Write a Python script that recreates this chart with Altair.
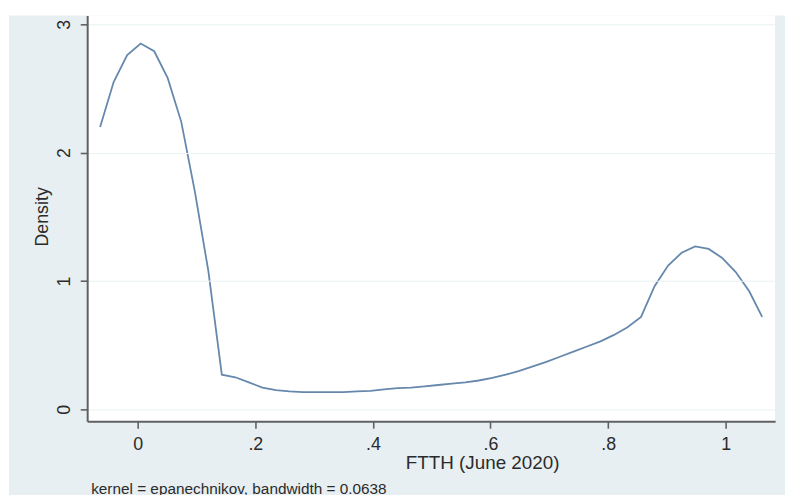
import altair as alt
import pandas as pd

# Kernel density estimate (50 evaluation points)
x_vals = [-0.064, -0.041, -0.018, 0.005, 0.028, 0.051, 0.074, 0.097, 0.120, 0.143,
          0.166, 0.189, 0.212, 0.235, 0.258, 0.281, 0.304, 0.327, 0.350, 0.373,
          0.396, 0.419, 0.442, 0.465, 0.488, 0.511, 0.534, 0.557, 0.580, 0.603,
          0.626, 0.649, 0.672, 0.695, 0.718, 0.741, 0.764, 0.787, 0.810, 0.833,
          0.856, 0.879, 0.902, 0.925, 0.948, 0.971, 0.994, 1.017, 1.040, 1.062]
density = [2.20, 2.55, 2.76, 2.85, 2.79, 2.58, 2.24, 1.70, 1.08, 0.27,
           0.25, 0.21, 0.17, 0.15, 0.14, 0.135, 0.135, 0.135, 0.135, 0.14,
           0.145, 0.155, 0.165, 0.17, 0.18, 0.19, 0.20, 0.21, 0.225, 0.245,
           0.27, 0.30, 0.335, 0.37, 0.41, 0.45, 0.49, 0.53, 0.58, 0.64,
           0.72, 0.96, 1.12, 1.22, 1.27, 1.25, 1.18, 1.07, 0.92, 0.72]
x_ticks = [0, 0.2, 0.4, 0.6, 0.8, 1]
y_ticks = [0, 1, 2, 3]
x_title = "FTTH (June 2020)"
y_title = "Density"
note = "kernel = epanechnikov, bandwidth = 0.0638"

df = pd.DataFrame({"x": x_vals, "density": density})
one = alt.Data(values=[{"k": 1}])

W, H = 695, 410
FONT = "Liberation Sans"
TXT = "#2b2b2b"
AX = "#606060"

bg = alt.Chart(one).mark_rect(color="#e7eff2").encode(
    x=alt.value(-79), x2=alt.value(720), y=alt.value(0), y2=alt.value(500))
plotbg = alt.Chart(one).mark_rect(color="white").encode(
    x=alt.value(0), x2=alt.value(W), y=alt.value(0), y2=alt.value(H))

line = alt.Chart(df).mark_line(color="#6688ad", strokeWidth=1.8).encode(
    x=alt.X("x:Q",
            scale=alt.Scale(domain=[-0.086, 1.084], nice=False, zero=False),
            axis=alt.Axis(values=x_ticks,
                          labelExpr="datum.value == 0 ? '0' : (datum.value >= 1 ? '1' : substring(format(datum.value, '.1f'), 1))",
                          title=x_title, titleX=399, titleY=42, titleAlign="center",
                          titleBaseline="middle", titleFontSize=19, titleFontWeight="normal",
                          titleFont=FONT, titleColor=TXT,
                          labelFont=FONT, labelFontSize=18, labelColor=TXT,
                          labelPadding=17, labelBaseline="middle", labelFlush=False,
                          tickSize=7, tickColor=AX, tickWidth=1.6,
                          domainColor=AX, domainWidth=2, grid=False, zindex=1)),
    y=alt.Y("density:Q",
            scale=alt.Scale(domain=[-0.0925, 3.069], nice=False, zero=False),
            axis=alt.Axis(values=y_ticks, format="d",
                          labelAngle=270, labelAlign="center", labelBaseline="middle",
                          labelPadding=16, labelFont=FONT, labelFontSize=18, labelColor=TXT,
                          labelFlush=False,
                          title=y_title, titleAngle=270, titleX=-45, titleY=203,
                          titleAlign="center", titleBaseline="middle", titleFontSize=18,
                          titleFontWeight="normal", titleFont=FONT, titleColor=TXT,
                          tickSize=7, tickColor=AX, tickWidth=1.6,
                          domainColor=AX, domainWidth=2,
                          grid=True, gridColor="#e9f1f1", gridWidth=1, zindex=1)),
)

note_t = alt.Chart(one).mark_text(align="left", baseline="top", fontSize=15.5,
                                  font=FONT, color=TXT).encode(
    x=alt.value(4), y=alt.value(472), text=alt.value(note))

chart = alt.layer(bg, plotbg, line, note_t).properties(
    width=W, height=H,
    padding={"left": 80, "top": 5, "right": 10, "bottom": 72},
    autosize=alt.AutoSizeParams(type="none"),
    background="white",
).configure_view(stroke=None)

chart.save("out.html", embed_options={"renderer": "svg", "actions": False})
